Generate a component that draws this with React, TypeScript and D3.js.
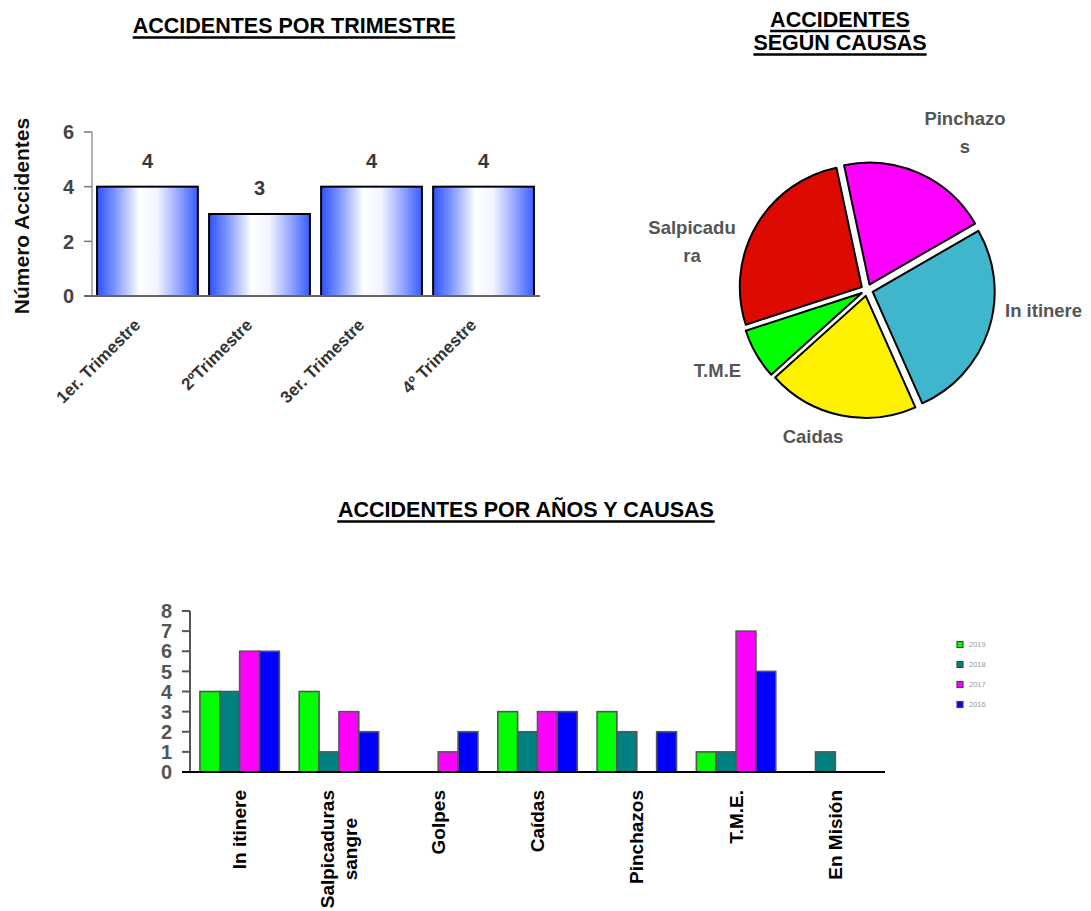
import React from "react";
import * as d3 from "d3";

// ---------- DATA ----------
const quarters = ["1er. Trimestre", "2ºTrimestre", "3er. Trimestre", "4º Trimestre"];
const quarterValues = [4, 3, 4, 4];
const quarterTicks = [0, 2, 4, 6];

const causes = ["Pinchazos", "In itinere", "Caidas", "T.M.E", "Salpicadura"];
const causeValues = [3, 4, 3, 1, 4];
const causeColors = ["#ff00ff", "#40b6cc", "#fff200", "#00ff00", "#dd0a02"];
const causeLabelLines = [["Pinchazo", "s"], ["In itinere"], ["Caidas"], ["T.M.E"], ["Salpicadu", "ra"]];

const categories = ["In itinere", "Salpicaduras sangre", "Golpes", "Caídas", "Pinchazos", "T.M.E.", "En Misión"];
const categoryLines = [["In itinere"], ["Salpicaduras", "sangre"], ["Golpes"], ["Caídas"], ["Pinchazos"], ["T.M.E."], ["En Misión"]];
const years = ["2019", "2018", "2017", "2016"];
const values2019 = [4, 4, 0, 3, 3, 1, 0];
const values2018 = [4, 1, 0, 2, 2, 1, 1];
const values2017 = [6, 3, 1, 3, 0, 7, 0];
const values2016 = [6, 2, 2, 3, 2, 5, 0];
const yearColors = ["#00ff00", "#008080", "#ff00ff", "#0000ff"];
const yearTicks = [0, 1, 2, 3, 4, 5, 6, 7, 8];

// ---------- LAYOUT ----------
const FONT = "'Liberation Sans', Arial, Helvetica, sans-serif";
const W = 1091;
const H = 911;

let ctx: CanvasRenderingContext2D | null = null;
function textWidth(t: string, font: string) {
  if (!ctx) ctx = document.createElement("canvas").getContext("2d");
  if (!ctx) return t.length * 10;
  ctx.font = font;
  return ctx.measureText(t).width;
}

function Title({ lines, x, y, lh }: { lines: string[]; x: number; y: number; lh: number }) {
  const size = 21.5;
  return (
    <g>
      {lines.map((l, i) => {
        const w = textWidth(l, `bold ${size}px ${FONT}`);
        const by = y + i * lh;
        return (
          <g key={i}>
            <text x={x} y={by} textAnchor="middle" fontFamily={FONT} fontWeight="bold" fontSize={size} fill="#000">
              {l}
            </text>
            <line x1={x - w / 2} x2={x + w / 2} y1={by + 4.5} y2={by + 4.5} stroke="#000" strokeWidth={2.6} />
          </g>
        );
      })}
    </g>
  );
}

// pie label anchors relative to pie centre (layout only)
const pieLabelOffsets: [number, number, "start" | "middle" | "end"][] = [
  [98, -165, "middle"],
  [138, 27, "start"],
  [-54, 153, "middle"],
  [-149.5, 87, "middle"],
  [-175, -56, "middle"],
];

export default function App() {
  // ---- top-left bar chart ----
  const xTop = d3.scaleBand<string>().domain(quarters).range([92, 539]).paddingInner(0.1).paddingOuter(0.045);
  const yTop = d3.scaleLinear().domain([0, 6]).range([296, 132]);

  // ---- pie ----
  const pcx = 867;
  const pcy = 290;
  const pr = 122;
  const explode = 6;
  const pieGen = d3
    .pie<number>()
    .sort(null)
    .startAngle((-12 * Math.PI) / 180)
    .endAngle((348 * Math.PI) / 180);
  const arcs = pieGen(causeValues);
  const arcGen = d3.arc<d3.PieArcDatum<number>>().innerRadius(0).outerRadius(pr);

  // ---- bottom grouped bar chart ----
  const series = [values2019, values2018, values2017, values2016];
  const xB = d3.scaleBand<string>().domain(categories).range([190, 885]).paddingInner(0.2).paddingOuter(0.1);
  const xInner = d3.scaleBand<string>().domain(years).range([0, xB.bandwidth()]);
  const yB = d3.scaleLinear().domain([0, 8]).range([772, 611]);
  const catFont = `bold 19px ${FONT}`;

  return (
    <svg width={W} height={H} style={{ position: "absolute", left: 0, top: 0, background: "#fff" }}>
      <defs>
        <linearGradient id="barGrad" x1="0" x2="1" y1="0" y2="0">
          <stop offset="0" stopColor="#3050ff" />
          <stop offset="0.18" stopColor="#7f95ff" />
          <stop offset="0.42" stopColor="#ffffff" />
          <stop offset="0.6" stopColor="#f2f4ff" />
          <stop offset="0.82" stopColor="#8ea1ff" />
          <stop offset="1" stopColor="#3a5dff" />
        </linearGradient>
      </defs>

      {/* Titles */}
      <Title lines={["ACCIDENTES POR TRIMESTRE"]} x={294} y={33} lh={0} />
      <Title lines={["ACCIDENTES", "SEGÚN CAUSAS"]} x={840} y={26.5} lh={23.5} />
      <Title lines={["ACCIDENTES POR AÑOS Y CAUSAS"]} x={526} y={517} lh={0} />

      {/* ---------- Top-left bar chart ---------- */}
      <g>
        <line x1={92} x2={92} y1={yTop(6)} y2={yTop(0)} stroke="#999" strokeWidth={1.5} />
        {quarterTicks.map((t) => (
          <g key={t}>
            <line x1={84} x2={92} y1={yTop(t)} y2={yTop(t)} stroke="#777" strokeWidth={1.5} />
            <text x={74} y={yTop(t)} dy="0.36em" textAnchor="end" fontFamily={FONT} fontWeight="bold" fontSize={20} fill="#444">
              {t}
            </text>
          </g>
        ))}
        {quarters.map((q, i) => {
          const x = xTop(q)!;
          const y = yTop(quarterValues[i]);
          return (
            <g key={q}>
              <rect x={x} y={y} width={xTop.bandwidth()} height={yTop(0) - y} fill="url(#barGrad)" stroke="#000" strokeWidth={2} />
              <text x={x + xTop.bandwidth() / 2} y={y - 19} textAnchor="middle" fontFamily={FONT} fontWeight="bold" fontSize={20} fill="#3a3a3a">
                {quarterValues[i]}
              </text>
              <text
                transform={`translate(${x + xTop.bandwidth() / 2 - 6},${326}) rotate(-45)`}
                textAnchor="end"
                fontFamily={FONT}
                fontWeight="bold"
                fontSize={17}
                fill="#333"
              >
                {q}
              </text>
            </g>
          );
        })}
        <line x1={84} x2={540} y1={yTop(0)} y2={yTop(0)} stroke="#666" strokeWidth={2} />
        <text transform={`translate(29,${216}) rotate(-90)`} textAnchor="middle" fontFamily={FONT} fontWeight="bold" fontSize={21} fill="#111">
          Número Accidentes
        </text>
      </g>

      {/* ---------- Pie chart ---------- */}
      <g transform={`translate(${pcx},${pcy})`}>
        {arcs.map((a, i) => {
          const mid = (a.startAngle + a.endAngle) / 2;
          const dx = explode * Math.sin(mid);
          const dy = -explode * Math.cos(mid);
          return (
            <path key={causes[i]} d={arcGen(a) || ""} transform={`translate(${dx},${dy})`} fill={causeColors[i]} stroke="#000" strokeWidth={2} strokeLinejoin="round" />
          );
        })}
        {causeLabelLines.map((lines, i) => {
          const [ox, oy, anchor] = pieLabelOffsets[i];
          return (
            <text key={causes[i]} x={ox} y={oy} textAnchor={anchor} fontFamily={FONT} fontWeight="bold" fontSize={18.5} fill="#555">
              {lines.map((l, j) => (
                <tspan key={j} x={ox} dy={j === 0 ? 0 : 27.5}>
                  {l}
                </tspan>
              ))}
            </text>
          );
        })}
      </g>

      {/* ---------- Bottom grouped bar chart ---------- */}
      <g>
        <line x1={190} x2={190} y1={yB(8)} y2={yB(0)} stroke="#555" strokeWidth={2} />
        {yearTicks.map((t) => (
          <g key={t}>
            <line x1={182} x2={190} y1={yB(t)} y2={yB(t)} stroke="#555" strokeWidth={2} />
            <text x={172} y={yB(t)} dy="0.36em" textAnchor="end" fontFamily={FONT} fontWeight="bold" fontSize={20} fill="#555">
              {t}
            </text>
          </g>
        ))}
        {categories.map((c, ci) => (
          <g key={c} transform={`translate(${xB(c)},0)`}>
            {years.map((yr, si) => {
              const v = series[si][ci];
              if (!v) return null;
              return (
                <rect
                  key={yr}
                  x={xInner(yr)}
                  y={yB(v)}
                  width={xInner.bandwidth()}
                  height={yB(0) - yB(v)}
                  fill={yearColors[si]}
                  stroke="#555"
                  strokeWidth={1.6}
                />
              );
            })}
          </g>
        ))}
        <line x1={182} x2={885} y1={yB(0)} y2={yB(0)} stroke="#000" strokeWidth={2} />
        {categoryLines.map((lines, ci) => {
          const cx = xB(categories[ci])! + xB.bandwidth() / 2;
          const maxW = Math.max(...lines.map((l) => textWidth(l, catFont)));
          const lh = 23;
          return (
            <g key={ci}>
              {lines.map((l, j) => {
                const off = (j - (lines.length - 1) / 2) * lh;
                const single = lines.length === 1;
                return (
                  <text
                    key={j}
                    transform={`translate(${cx + off},${single ? 790 : 790 + maxW / 2}) rotate(-90)`}
                    dy="0.35em"
                    textAnchor={single ? "end" : "middle"}
                    fontFamily={FONT}
                    fontWeight="bold"
                    fontSize={19}
                    fill="#000"
                  >
                    {l}
                  </text>
                );
              })}
            </g>
          );
        })}
        {/* legend */}
        {years.map((yr, i) => (
          <g key={yr} transform={`translate(957,${641.5 + i * 20})`}>
            <rect x={0} y={0} width={6} height={6} fill={yearColors[i]} stroke="#444" strokeWidth={1.2} />
            <text x={12} y={3} dy="0.35em" fontFamily={FONT} fontSize={7.5} fill="#999">
              {yr}
            </text>
          </g>
        ))}
      </g>
    </svg>
  );
}
